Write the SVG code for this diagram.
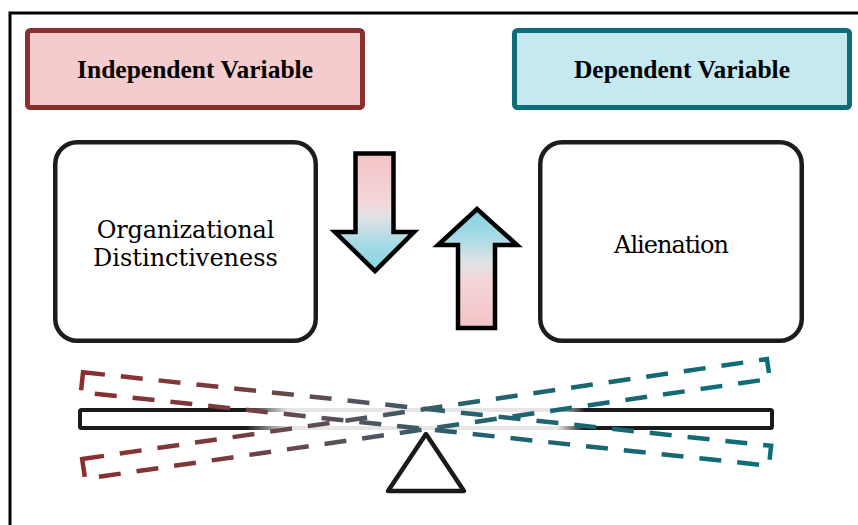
<svg xmlns="http://www.w3.org/2000/svg" width="858" height="525" viewBox="0 0 858 525">
  <defs>
    <linearGradient id="gDown" x1="0" y1="0" x2="0" y2="1">
      <stop offset="0" stop-color="#f3c3c6"/>
      <stop offset="0.4" stop-color="#f4d6d8"/>
      <stop offset="0.55" stop-color="#dfe2e6"/>
      <stop offset="0.8" stop-color="#9fd9e5"/>
      <stop offset="1" stop-color="#88d4e3"/>
    </linearGradient>
    <linearGradient id="gUp" x1="0" y1="1" x2="0" y2="0">
      <stop offset="0" stop-color="#f3c3c6"/>
      <stop offset="0.4" stop-color="#f4d6d8"/>
      <stop offset="0.55" stop-color="#dfe2e6"/>
      <stop offset="0.8" stop-color="#9fd9e5"/>
      <stop offset="1" stop-color="#88d4e3"/>
    </linearGradient>
    <linearGradient id="gBeam" gradientUnits="userSpaceOnUse" x1="80" y1="0" x2="772" y2="0">
      <stop offset="0" stop-color="#1a1a1a"/>
      <stop offset="0.24" stop-color="#1a1a1a"/>
      <stop offset="0.3" stop-color="#e6e6e6"/>
      <stop offset="0.69" stop-color="#e6e6e6"/>
      <stop offset="0.73" stop-color="#1a1a1a"/>
      <stop offset="1" stop-color="#1a1a1a"/>
    </linearGradient>
    <linearGradient id="gBoard" gradientUnits="userSpaceOnUse" x1="80" y1="0" x2="772" y2="0">
      <stop offset="0" stop-color="#8a2e2d"/>
      <stop offset="0.2" stop-color="#7a3b3d"/>
      <stop offset="0.42" stop-color="#4e5661"/>
      <stop offset="0.58" stop-color="#22626d"/>
      <stop offset="1" stop-color="#0c6e7a"/>
    </linearGradient>
  </defs>
  <style>
    .hdr { font-family: "Liberation Serif", "Times New Roman", serif; font-weight: bold; font-size: 25.5px; fill: #000; text-anchor: middle; }
    .lbl { font-family: "DejaVu Serif", "Liberation Serif", serif; font-size: 24px; fill: #000; text-anchor: middle; }
    .node { fill: #fff; stroke: #1c1c1c; stroke-width: 4.5; }
    .arrow { stroke: #000; stroke-width: 4.5; stroke-linejoin: miter; }
    .board { fill: none; stroke: url(#gBoard); stroke-width: 4.5; stroke-dasharray: 22 16; }
  </style>

  <rect x="0" y="0" width="858" height="525" fill="#fff"/>
  <path id="frame" d="M10,530 V13 H870" fill="none" stroke="#000" stroke-width="3"/>

  <g id="independent-variable">
    <rect x="27.5" y="30.5" width="335" height="77" rx="3" fill="#f5cccd" stroke="#86302f" stroke-width="5"/>
    <text class="hdr" x="195" y="78">Independent Variable</text>
  </g>

  <g id="dependent-variable">
    <rect x="514.5" y="30.5" width="335" height="77" rx="3" fill="#c6e8ef" stroke="#0d6e7a" stroke-width="5"/>
    <text class="hdr" x="682" y="78">Dependent Variable</text>
  </g>

  <g id="organizational-distinctiveness">
    <rect class="node" x="55.25" y="142.25" width="260.5" height="198.5" rx="22"/>
    <text class="lbl" x="185.5" y="237.5" letter-spacing="-0.2">Organizational</text>
    <text class="lbl" x="185.5" y="265.5">Distinctiveness</text>
  </g>

  <g id="alienation">
    <rect class="node" x="540.25" y="142.25" width="261.5" height="198.5" rx="22"/>
    <text class="lbl" x="671" y="253" letter-spacing="-1">Alienation</text>
  </g>

  <g id="connectors">
    <path id="arrow-down" class="arrow" fill="url(#gDown)" d="M355.5,153.5 H393.5 V232 H414 L375,271 L335,232 H355.5 Z"/>
    <path id="arrow-up" class="arrow" fill="url(#gUp)" d="M458,328 V245 H438 L477,209 L517,245 H495 V328 Z"/>
  </g>

  <g id="seesaw">
    <polygon id="fulcrum" points="426,434 464,491 388,491" fill="#fff" stroke="#1a1a1a" stroke-width="4.5" stroke-linejoin="round"/>
    <rect id="beam" x="80" y="410" width="692" height="18" rx="1.5" fill="#fff" stroke="url(#gBeam)" stroke-width="4"/>
    <rect id="board-a" class="board" x="80" y="409" width="692" height="20" transform="rotate(6.1 426 419)"/>
    <rect id="board-b" class="board" x="80" y="409" width="692" height="20" transform="rotate(-8.3 426 419)"/>
  </g>
</svg>
